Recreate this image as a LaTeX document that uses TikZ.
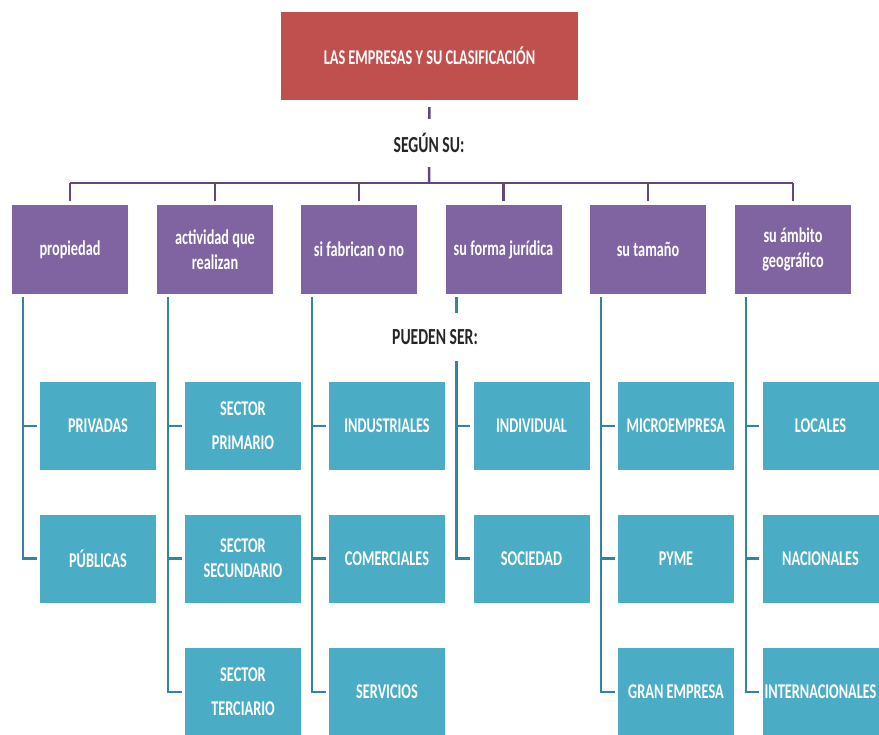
\documentclass[tikz,border=0pt]{standalone}
\usepackage{fontspec}
\setmainfont{Carlito}[FakeStretch=0.68]
\definecolor{redbox}{HTML}{C0504D}
\definecolor{purbox}{HTML}{8064A2}
\definecolor{tealbox}{HTML}{4BACC6}
\definecolor{purline}{HTML}{5F497A}
\definecolor{tealline}{HTML}{31859C}
\begin{document}
\begin{tikzpicture}[x=1pt,y=-1pt,
  titlebox/.style={fill=redbox, text=white, minimum width=297pt, minimum height=88pt, inner sep=0pt, font=\bfseries\fontsize{21}{25}\selectfont},
  catbox/.style={fill=purbox, text=white, minimum width=116pt, minimum height=89pt, inner sep=0pt, align=center, font=\bfseries\fontsize{21}{25}\selectfont},
  itembox/.style={fill=tealbox, text=white, minimum width=116pt, minimum height=88pt, inner sep=0pt, align=center, font=\bfseries\fontsize{21}{25}\selectfont},
  lbl/.style={fill=white, inner xsep=4pt, inner ysep=0pt, minimum height=48pt, font=\bfseries\fontsize{23}{26}\selectfont, text=black!85},
  pline/.style={draw=purline, line width=2.5pt},
  tline/.style={draw=tealline, line width=2.5pt},
]
\useasboundingbox (0,0) rectangle (879,735);
\fill[white] (0,0) rectangle (879,735);

% title
\node[titlebox] (title) at (429.5,56) {LAS EMPRESAS Y SU CLASIFICACIÓN};
\coordinate (bar) at (429,183);
\draw[pline, shorten <=7pt] (title.south) -- (bar);
\node[lbl] (segun) at (429,143) {SEGÚN SU:};

% categories
\node[catbox] (c1) at (70,249.5) {propiedad};
\node[catbox] (c2) at (215,249.5) {actividad que\\realizan};
\node[catbox] (c3) at (359,249.5) {si fabrican o no};
\node[catbox] (c4) at (503.5,249.5) {su forma jurídica};
\node[catbox] (c5) at (648,249.5) {su tamaño};
\node[catbox] (c6) at (793,249.5) {su ámbito\\geográfico};

\draw[pline] (c1.north |- bar) -- (c6.north |- bar);
\foreach \c in {c1,c2,c3,c4,c5,c6}
  \draw[pline, shorten >=4pt] (\c.north |- bar) -- (\c.north);

% items
\node[itembox] (i11) at (98,426) {PRIVADAS};
\node[itembox] (i12) at (98,558.5) {PÚBLICAS};

\node[itembox] (i21) at (243,426) {SECTOR\\[9pt]PRIMARIO};
\node[itembox] (i22) at (243,558.5) {SECTOR\\SECUNDARIO};
\node[itembox] (i23) at (243,692) {SECTOR\\[9pt]TERCIARIO};

\node[itembox] (i31) at (387,426) {INDUSTRIALES};
\node[itembox] (i32) at (387,558.5) {COMERCIALES};
\node[itembox] (i33) at (387,692) {SERVICIOS};

\node[itembox] (i41) at (531.5,426) {INDIVIDUAL};
\node[itembox] (i42) at (531.5,558.5) {SOCIEDAD};

\node[itembox] (i51) at (676,426) {MICROEMPRESA};
\node[itembox] (i52) at (676,558.5) {PYME};
\node[itembox] (i53) at (676,692) {GRAN EMPRESA};

\node[itembox] (i61) at (820.5,426) {LOCALES};
\node[itembox] (i62) at (820.5,558.5) {NACIONALES};
\node[itembox] (i63) at (820.5,692) {INTERNACIONALES};

% teal connectors
\foreach \c/\last/\others in {c1/i12/{i11}, c2/i23/{i21,i22}, c3/i33/{i31,i32}, c4/i42/{i41}, c5/i53/{i51,i52}, c6/i63/{i61,i62}}{
  \draw[tline, shorten <=3pt, shorten >=3pt] ([xshift=11pt]\c.south west) |- (\last.west);
  \foreach \o in \others
    \draw[tline, shorten >=3pt] ([xshift=11pt]\c.south west |- \o.west) -- (\o.west);
}

\node[lbl] (pueden) at (435,337) {PUEDEN SER:};
\end{tikzpicture}
\end{document}
